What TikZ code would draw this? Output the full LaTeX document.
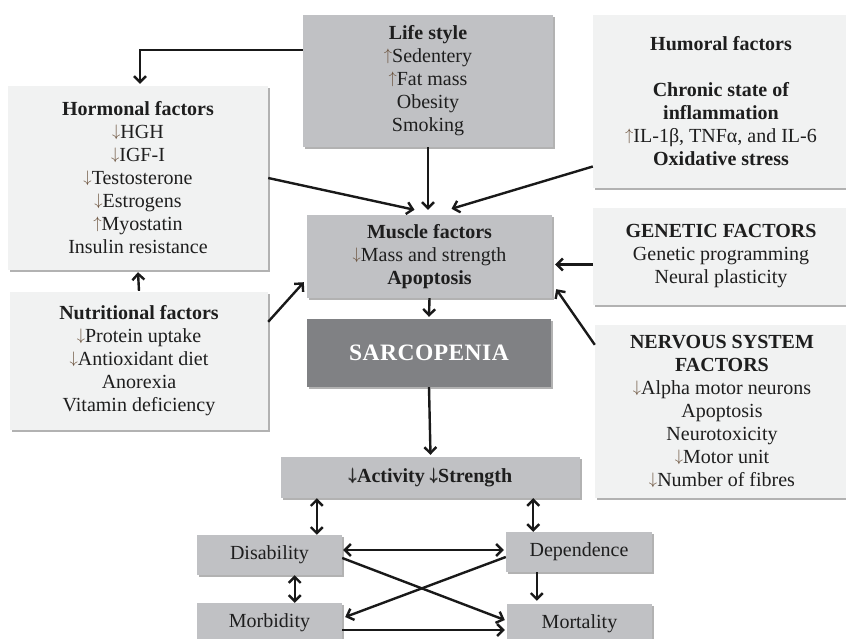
\documentclass[tikz,border=0pt]{standalone}
\usepackage{amsmath}
\usepackage{graphicx}
\usepackage{fontspec}
\setmainfont{Liberation Serif}
\usetikzlibrary{arrows.meta,shadows}
\definecolor{dbox}{RGB}{192,193,196}
\definecolor{lbox}{RGB}{241,242,242}
\definecolor{sbox}{RGB}{128,129,132}
\definecolor{txt}{RGB}{30,30,30}
\definecolor{arrc}{RGB}{105,80,58}
\definecolor{lc}{RGB}{25,25,25}
\newcommand{\dn}{\textcolor{arrc}{\raisebox{2pt}{\scalebox{0.8}{$\downarrow$}}}}
\newcommand{\upa}{\textcolor{arrc}{\raisebox{2pt}{\scalebox{0.8}{$\uparrow$}}}}
\newcommand{\bdn}{\raisebox{2pt}{\scalebox{0.8}{\pmb{$\downarrow$}}}}
\tikzset{
  box/.style={rectangle, inner sep=0pt, align=center, text=txt,
    font=\fontsize{20}{23}\selectfont,
    drop shadow={shadow xshift=1.5pt, shadow yshift=-2pt, fill=black, opacity=0.3}},
  dark/.style={box, fill=dbox},
  light/.style={box, fill=lbox},
  conn/.style={line width=2.4pt, draw=lc, -{Straight Barb[length=6pt,width=12pt]}},
  dconn/.style={line width=2.4pt, draw=lc, {Straight Barb[length=6pt,width=12pt]}-{Straight Barb[length=6pt,width=12pt]}},
}
\begin{document}
\begin{tikzpicture}[x=1pt, y=-1pt]
\fill[white] (0,0) rectangle (846,639);
\useasboundingbox (0,0) rectangle (846,639);

\node[dark, minimum width=250pt, minimum height=132pt] (life) at (428,81)
  {\textbf{Life style}\\ \upa Sedentery\\ \upa Fat mass\\ Obesity\\ Smoking};
\node[light, minimum width=260pt, minimum height=184pt] (horm) at (138,178)
  {\textbf{Hormonal factors}\\ \dn HGH\\ \dn IGF-I\\ \dn Testosterone\\ \dn Estrogens\\ \upa Myostatin\\ Insulin resistance};
\node[light, minimum width=258pt, minimum height=138pt] (nutr) at (139,361)
  {\textbf{Nutritional factors}\\ \dn Protein uptake\\ \dn Antioxidant diet\\ Anorexia\\ Vitamin deficiency};
\node[light, minimum width=256pt, minimum height=173pt] (humor) at (721,101.5)
  {\textbf{Humoral factors}\\[23pt] \textbf{Chronic state of}\\ \textbf{inflammation}\\ \upa IL-1β, TNFα, and IL-6\\ \textbf{Oxidative stress}};
\node[light, minimum width=256pt, minimum height=97pt] (gen) at (721,256.5)
  {\textbf{GENETIC FACTORS}\\ Genetic programming\\ Neural plasticity};
\node[light, minimum width=254pt, minimum height=173pt] (nerv) at (722,411.5)
  {\textbf{NERVOUS SYSTEM}\\ \textbf{FACTORS}\\ \dn Alpha motor neurons\\ Apoptosis\\ Neurotoxicity\\ \dn Motor unit\\ \dn Number of fibres};
\node[dark, minimum width=245pt, minimum height=83pt] (musc) at (429.5,256.5)
  {\textbf{Muscle factors}\\ \dn Mass and strength\\ \textbf{Apoptosis}};
\node[box, fill=sbox, text=white, minimum width=244pt, minimum height=68pt,
  font=\fontsize{23.5}{27}\selectfont\bfseries\addfontfeatures{LetterSpace=2}] (sarc) at (429,353) {SARCOPENIA};
\node[dark, minimum width=299pt, minimum height=41pt] (act) at (430.5,477.5)
  {\textbf{\bdn Activity \bdn Strength}};
\node[dark, minimum width=145pt, minimum height=40pt] (dis) at (269.5,555) {Disability};
\node[dark, minimum width=146pt, minimum height=40pt] (dep) at (579,552) {Dependence};
\node[dark, minimum width=145pt, minimum height=40pt] (morb) at (269.5,623) {Morbidity};
\node[dark, minimum width=145pt, minimum height=40pt] (mort) at (579.5,624) {Mortality};

% connectors
\draw[conn] ([yshift=31pt]life.west) -| ([xshift=2pt,yshift=2pt]horm.north);
\draw[conn] (horm.east) -- ([xshift=-15pt,yshift=5pt]musc.north);
\coordinate (lb) at (life.south);
\draw[conn] (lb) -- ([yshift=5pt]musc.north -| lb);
\draw[conn] ([yshift=-65pt]humor.west) -- ([xshift=22pt,yshift=6pt]musc.north);
\draw[conn] ([yshift=-8pt]gen.west) -- ([xshift=3pt,yshift=-8pt]musc.east);
\draw[conn] ([yshift=-20pt]nerv.north west) -- ([xshift=4pt,yshift=9pt]musc.south east);
\draw[conn] ([yshift=-30pt]nutr.north east) -- ([xshift=-3pt,yshift=16pt]musc.south west);
\draw[conn] ([yshift=1pt]nutr.north) -- ([yshift=-2pt]horm.south);
\draw[conn] (musc.south) -- ([yshift=2pt]sarc.north);
\draw[conn] (sarc.south) -- ([yshift=2pt]act.north);

\coordinate (a1) at ([xshift=36pt]act.south west);
\draw[dconn] (a1) -- (a1 |- dis.north);
\coordinate (a2) at ([xshift=-47pt]act.south east);
\draw[dconn] (a2) -- (a2 |- dep.north);
\coordinate (d1) at ([yshift=5pt]dis.east);
\draw[dconn] ([xshift=1pt]d1) -- ([xshift=-2pt]d1 -| dep.west);
\coordinate (d2) at ([xshift=-47.5pt]dis.south east);
\draw[dconn] (d2) -- (d2 |- morb.north);
\coordinate (e1) at ([xshift=31pt]dep.south west);
\draw[conn] (e1) -- ([yshift=3pt]e1 |- mort.north);
\draw[conn] ([yshift=-3pt]dis.east) -- ([xshift=-2pt,yshift=4pt]mort.west);
\draw[conn] ([yshift=-5pt]dep.west) -- ([xshift=3pt,yshift=6pt]morb.east);
\coordinate (m1) at ([yshift=-7pt]morb.east);
\draw[conn] (m1) -- ([xshift=-2pt]m1 -| mort.west);
\end{tikzpicture}
\end{document}
